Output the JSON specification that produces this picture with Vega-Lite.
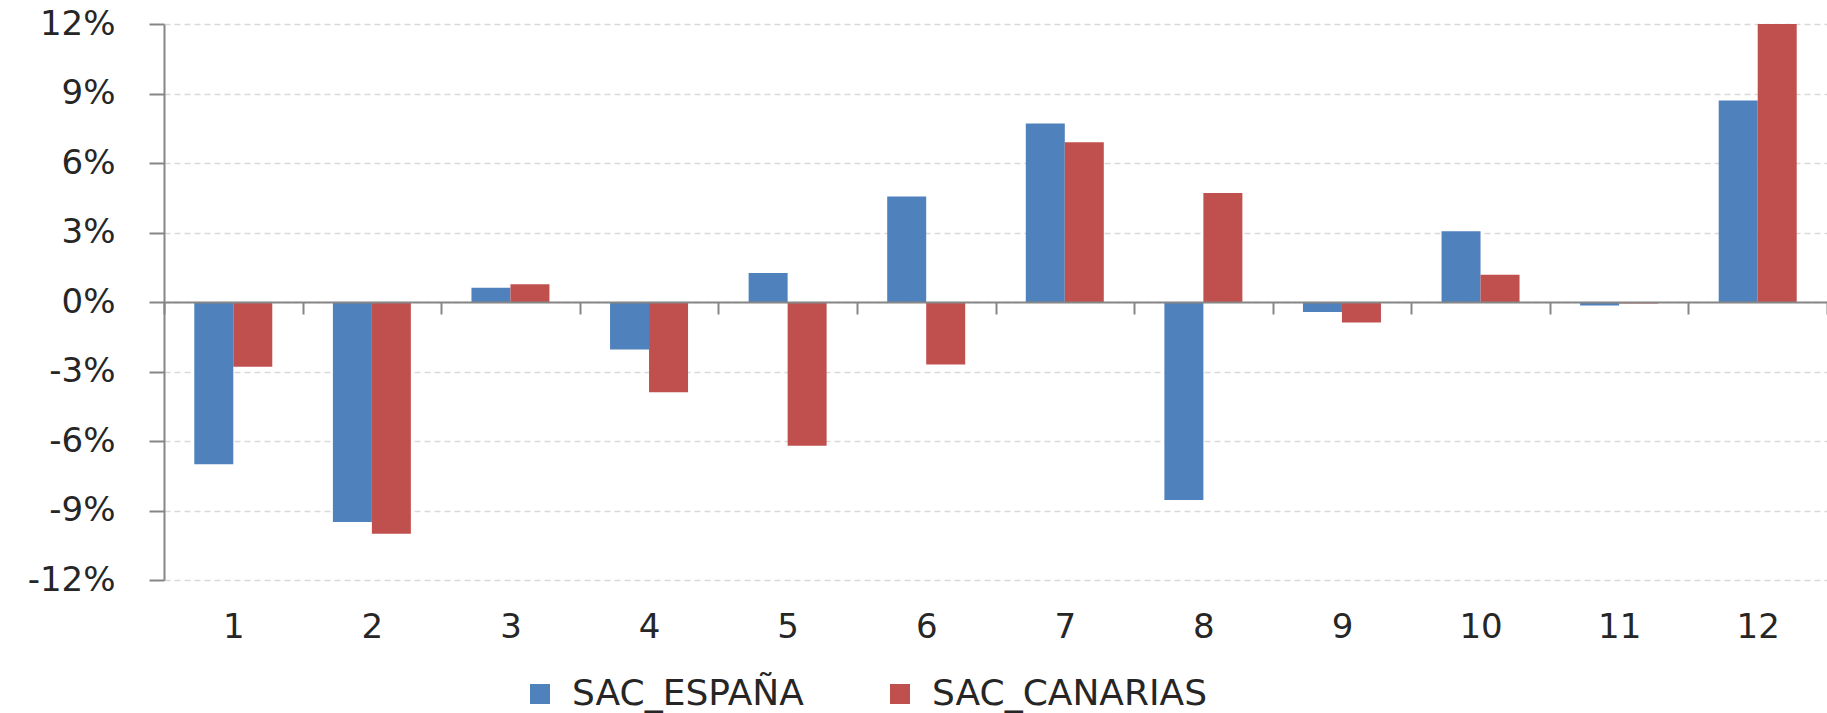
{
  "$schema": "https://vega.github.io/schema/vega-lite/v6.json",
  "width": 1663,
  "height": 556,
  "autosize": {"type": "none"},
  "padding": {"left": 164, "top": 24, "right": 0, "bottom": 133},
  "background": "white",
  "config": {"view": {"stroke": null}, "font": "DejaVu Sans"},
  "data": {
    "values": [
      {"mes": 1, "serie": "SAC_ESPAÑA", "valor": -7.0},
      {"mes": 1, "serie": "SAC_CANARIAS", "valor": -2.8},
      {"mes": 2, "serie": "SAC_ESPAÑA", "valor": -9.5},
      {"mes": 2, "serie": "SAC_CANARIAS", "valor": -10.0},
      {"mes": 3, "serie": "SAC_ESPAÑA", "valor": 0.62},
      {"mes": 3, "serie": "SAC_CANARIAS", "valor": 0.77},
      {"mes": 4, "serie": "SAC_ESPAÑA", "valor": -2.05},
      {"mes": 4, "serie": "SAC_CANARIAS", "valor": -3.9},
      {"mes": 5, "serie": "SAC_ESPAÑA", "valor": 1.25},
      {"mes": 5, "serie": "SAC_CANARIAS", "valor": -6.2},
      {"mes": 6, "serie": "SAC_ESPAÑA", "valor": 4.55},
      {"mes": 6, "serie": "SAC_CANARIAS", "valor": -2.7},
      {"mes": 7, "serie": "SAC_ESPAÑA", "valor": 7.7},
      {"mes": 7, "serie": "SAC_CANARIAS", "valor": 6.9},
      {"mes": 8, "serie": "SAC_ESPAÑA", "valor": -8.55},
      {"mes": 8, "serie": "SAC_CANARIAS", "valor": 4.7},
      {"mes": 9, "serie": "SAC_ESPAÑA", "valor": -0.43},
      {"mes": 9, "serie": "SAC_CANARIAS", "valor": -0.88},
      {"mes": 10, "serie": "SAC_ESPAÑA", "valor": 3.05},
      {"mes": 10, "serie": "SAC_CANARIAS", "valor": 1.18},
      {"mes": 11, "serie": "SAC_ESPAÑA", "valor": -0.15},
      {"mes": 11, "serie": "SAC_CANARIAS", "valor": -0.07},
      {"mes": 12, "serie": "SAC_ESPAÑA", "valor": 8.7},
      {"mes": 12, "serie": "SAC_CANARIAS", "valor": 12.0}
    ]
  },
  "mark": {"type": "bar"},
  "encoding": {
    "x": {
      "field": "mes",
      "type": "ordinal",
      "scale": {"paddingInner": 0, "paddingOuter": 0},
      "axis": {
        "title": null,
        "offset": -278,
        "domainColor": "#868686",
        "domainWidth": 2,
        "tickColor": "#868686",
        "tickWidth": 2,
        "tickSize": 12,
        "tickBand": "extent",
        "labelPadding": 296,
        "labelFontSize": 34,
        "labelColor": "#262626",
        "labelAngle": 0,
        "grid": false,
        "zindex": 1
      }
    },
    "xOffset": {
      "field": "serie",
      "sort": ["SAC_ESPAÑA", "SAC_CANARIAS"],
      "scale": {"paddingInner": 0, "paddingOuter": 0.777}
    },
    "y": {
      "field": "valor",
      "type": "quantitative",
      "scale": {"domain": [-12, 12], "nice": false, "zero": false},
      "axis": {
        "title": null,
        "values": [-12, -9, -6, -3, 0, 3, 6, 9, 12],
        "labelExpr": "datum.value + '%'",
        "labelFontSize": 34,
        "labelColor": "#262626",
        "labelPadding": 34,
        "tickSize": 15,
        "tickColor": "#868686",
        "tickWidth": 2,
        "domainColor": "#868686",
        "domainWidth": 2,
        "gridColor": "#d9d9d9",
        "gridDash": [6, 4],
        "gridWidth": 1.5
      }
    },
    "color": {
      "field": "serie",
      "type": "nominal",
      "sort": ["SAC_ESPAÑA", "SAC_CANARIAS"],
      "scale": {"domain": ["SAC_ESPAÑA", "SAC_CANARIAS"], "range": ["#4F81BD", "#C0504D"]},
      "legend": {
        "orient": "none",
        "legendX": 358,
        "legendY": 652,
        "direction": "horizontal",
        "title": null,
        "symbolType": "square",
        "symbolSize": 400,
        "symbolStrokeWidth": 0,
        "labelFontSize": 36,
        "labelOffset": 14,
        "labelLimit": 600,
        "columnPadding": 78,
        "labelColor": "#262626",
        "padding": 0
      }
    }
  }
}
